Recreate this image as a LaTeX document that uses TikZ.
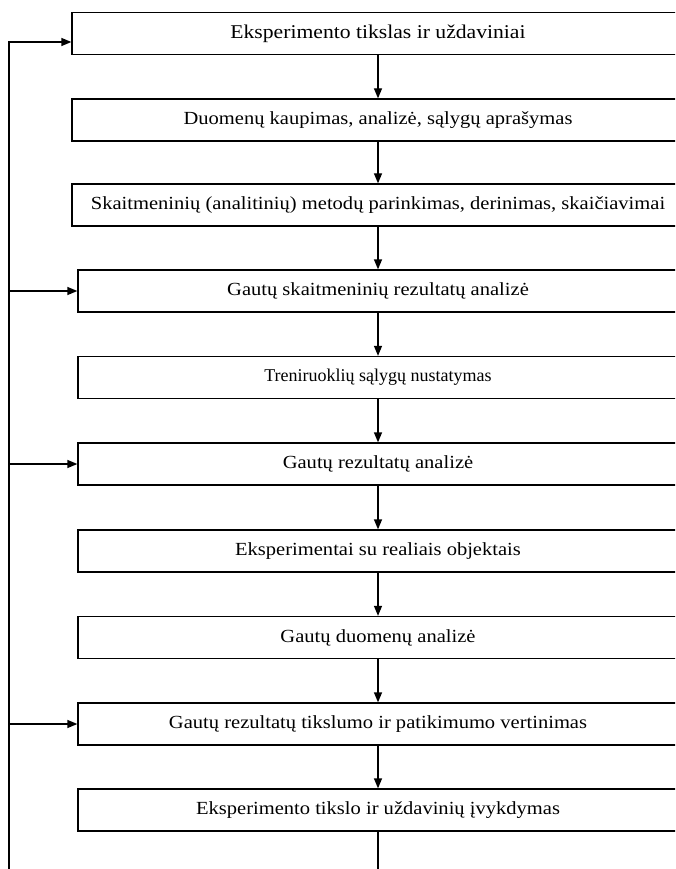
\documentclass[tikz,border=0pt]{standalone}
\usepackage{fontspec}
\setmainfont{Liberation Serif}
\newfontfamily\widefont[FakeStretch=1.11]{Liberation Serif}
\usetikzlibrary{arrows.meta}
\begin{document}
\begin{tikzpicture}[x=1pt,y=-1pt,
  stepbox/.style={draw, line width=1.3pt, rectangle, minimum height=42pt, minimum width=600pt, inner sep=0pt, font=\widefont\fontsize{18.5}{20}\selectfont},
  widebox/.style={stepbox, minimum width=612pt},
  topbox/.style={widebox, font=\widefont\fontsize{19.5}{21}\selectfont},
  plainbox/.style={stepbox, font=\rmfamily\fontsize{18}{20}\selectfont},
  arr/.style={line width=1.3pt, -{Triangle[length=10pt,width=8pt]}},
  ln/.style={line width=1.3pt}]
\useasboundingbox (0,0) rectangle (675,869);
\clip (0,0) rectangle (675,869);
\node[topbox] (b1) at (378,33.5) {Eksperimento tikslas ir uždaviniai};
\node[widebox] (b2) at (378,120) {Duomenų kaupimas, analizė, sąlygų aprašymas};
\node[widebox] (b3) at (378,205) {Skaitmeninių (analitinių) metodų parinkimas, derinimas, skaičiavimai};
\node[stepbox] (b4) at (378,291) {Gautų skaitmeninių rezultatų analizė};
\node[plainbox] (b5) at (378,377.5) {Treniruoklių sąlygų nustatymas};
\node[stepbox] (b6) at (378,464) {Gautų rezultatų analizė};
\node[stepbox] (b7) at (378,551) {Eksperimentai su realiais objektais};
\node[stepbox] (b8) at (378,637.5) {Gautų duomenų analizė};
\node[stepbox] (b9) at (378,724) {Gautų rezultatų tikslumo ir patikimumo vertinimas};
\node[stepbox] (b10) at (378,810) {Eksperimento tikslo ir uždavinių įvykdymas};
\coordinate (bot) at (9,872);
\coordinate (end) at (378,872);
\foreach \a/\b in {b1/b2,b2/b3,b3/b4,b4/b5,b5/b6,b6/b7,b7/b8,b8/b9,b9/b10}
  \draw[arr] (\a.south) -- (\b.north);
\draw[ln] (b10.south) -- (end);
\draw[arr] (bot) |- ([yshift=-8.5pt]b1.west);
\draw[arr] (b4.west -| bot) -- (b4.west);
\draw[arr] (b6.west -| bot) -- (b6.west);
\draw[arr] (b9.west -| bot) -- (b9.west);
\end{tikzpicture}
\end{document}
